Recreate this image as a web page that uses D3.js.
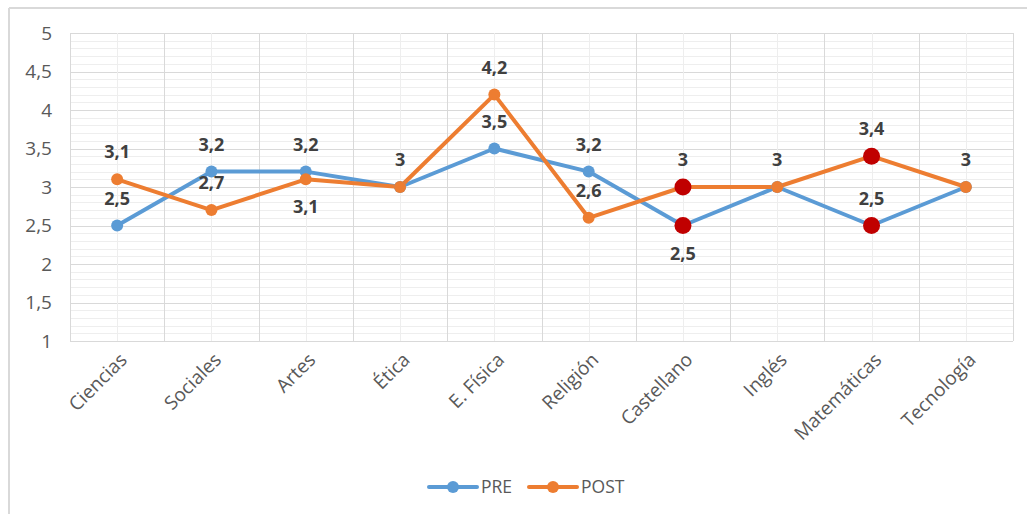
<!DOCTYPE html>
<html>
<head>
<meta charset="utf-8">
<script src="https://cdn.jsdelivr.net/npm/d3@7"></script>
<style>
  body { margin: 0; background: #fff; }
  svg { display: block; font-family: "Open Sans", "Liberation Sans", sans-serif; }
</style>
</head>
<body>
<svg id="chart" width="1027" height="514"></svg>
<script>
// categories and series values
var materias = ['Ciencias', 'Sociales', 'Artes', 'Ética', 'E. Física', 'Religión', 'Castellano', 'Inglés', 'Matemáticas', 'Tecnología'];
var pre  = [2.5, 3.2, 3.2, 3.0, 3.5, 3.2, 2.5, 3.0, 2.5, 3.0];
var post = [3.1, 2.7, 3.1, 3.0, 4.2, 2.6, 3.0, 3.0, 3.4, 3.0];
var yTicks = [1, 1.5, 2, 2.5, 3, 3.5, 4, 4.5, 5];
// points highlighted in dark red
var highlight = ['Castellano', 'Matemáticas'];
// label placement: 'a' above, 'b' below, '' none
var preLabelPos  = ['a', 'a', 'a', '', 'a', 'a', 'b', '', 'a', ''];
var postLabelPos = ['a', 'a', 'b', 'a', 'a', 'a', 'a', 'a', 'a', 'a'];

var svg = d3.select('#chart');
var pLeft = 70, pRight = 1013, pTop = 33, pBottom = 341;

var x = d3.scaleBand().domain(materias).range([pLeft, pRight]);
var y = d3.scaleLinear().domain([1, 5]).range([pBottom, pTop]);
var fmt = function(v) { return String(v).replace('.', ','); };

// outer frame (only top and left edges visible)
svg.append('line').attr('x1', 9).attr('y1', 8).attr('x2', 1027).attr('y2', 8)
  .attr('stroke', '#d9d9d9').attr('stroke-width', 2);
svg.append('line').attr('x1', 9).attr('y1', 8).attr('x2', 9).attr('y2', 514)
  .attr('stroke', '#d9d9d9').attr('stroke-width', 2);

var grid = svg.append('g');
// minor horizontal grid every 0.1, major every 0.5
d3.range(10, 51).forEach(function(i) {
  var gy = Math.round(y(i / 10)) + 0.5;
  grid.append('line')
    .attr('x1', pLeft).attr('x2', pRight)
    .attr('y1', gy).attr('y2', gy)
    .attr('stroke', i % 5 === 0 ? '#d9d9d9' : '#eeeeee');
});
// vertical grid: minor at category centers, major at category bounds
materias.forEach(function(m) {
  var gx = Math.round(x(m) + x.bandwidth() / 2) + 0.5;
  grid.append('line').attr('x1', gx).attr('x2', gx)
    .attr('y1', pTop).attr('y2', pBottom).attr('stroke', '#eeeeee');
});
materias.map(function(m) { return x(m); }).concat([pRight]).forEach(function(bx) {
  var gx = Math.round(bx) + 0.5;
  grid.append('line').attr('x1', gx).attr('x2', gx)
    .attr('y1', pTop).attr('y2', pBottom).attr('stroke', '#d9d9d9');
});

// y axis labels
var yAxis = d3.axisLeft(y).tickValues(yTicks).tickSize(0).tickPadding(18).tickFormat(fmt);
svg.append('g').attr('transform', 'translate(' + pLeft + ',0)').call(yAxis)
  .call(function(g) { g.select('.domain').remove(); })
  .selectAll('text').attr('fill', '#595959').style('font-size', '19px')
  .style('font-family', '"Open Sans", sans-serif');

// x axis labels, rotated
var xAxis = d3.axisBottom(x).tickSize(0).tickPadding(0);
svg.append('g').attr('transform', 'translate(0,' + pBottom + ')').call(xAxis)
  .call(function(g) { g.select('.domain').remove(); })
  .selectAll('text')
  .attr('fill', '#595959').style('font-size', '19px')
  .style('font-family', '"Open Sans", sans-serif')
  .attr('text-anchor', 'end')
  .attr('y', 0).attr('dy', 0)
  .attr('transform', 'translate(11,20) rotate(-45)');

var cx = function(d, i) { return x(materias[i]) + x.bandwidth() / 2; };
var line = d3.line().x(cx).y(function(d) { return y(d); });

var series = [
  { name: 'PRE', values: pre, color: '#5b9bd5', pos: preLabelPos },
  { name: 'POST', values: post, color: '#ed7d31', pos: postLabelPos }
];

series.forEach(function(s) {
  svg.append('path').datum(s.values).attr('d', line)
    .attr('fill', 'none').attr('stroke', s.color).attr('stroke-width', 4)
    .attr('stroke-linejoin', 'round');
});

series.forEach(function(s) {
  svg.append('g').selectAll('circle').data(s.values).enter().append('circle')
    .attr('cx', cx).attr('cy', function(d) { return y(d); })
    .attr('r', function(d, i) { return highlight.indexOf(materias[i]) >= 0 ? 8.5 : 6; })
    .attr('fill', function(d, i) { return highlight.indexOf(materias[i]) >= 0 ? '#c00000' : s.color; });
});

// data labels
series.forEach(function(s) {
  s.values.forEach(function(v, i) {
    if (!s.pos[i]) return;
    svg.append('text')
      .attr('x', cx(v, i))
      .attr('y', s.pos[i] === 'a' ? y(v) - 21 : y(v) + 34)
      .attr('text-anchor', 'middle')
      .attr('fill', '#404040')
      .style('font-size', '18px').style('font-weight', 'bold')
      .text(fmt(v));
  });
});

// legend
var legend = svg.append('g');
var legendX = [429, 529];
series.forEach(function(s, i) {
  var lx = legendX[i];
  legend.append('line').attr('x1', lx).attr('x2', lx + 48).attr('y1', 487).attr('y2', 487)
    .attr('stroke', s.color).attr('stroke-width', 4).attr('stroke-linecap', 'round');
  legend.append('circle').attr('cx', lx + 24).attr('cy', 487).attr('r', 6).attr('fill', s.color);
  legend.append('text').attr('x', lx + 52).attr('y', 493)
    .attr('fill', '#595959').style('font-size', '17.5px').text(s.name);
});
</script>
</body>
</html>
